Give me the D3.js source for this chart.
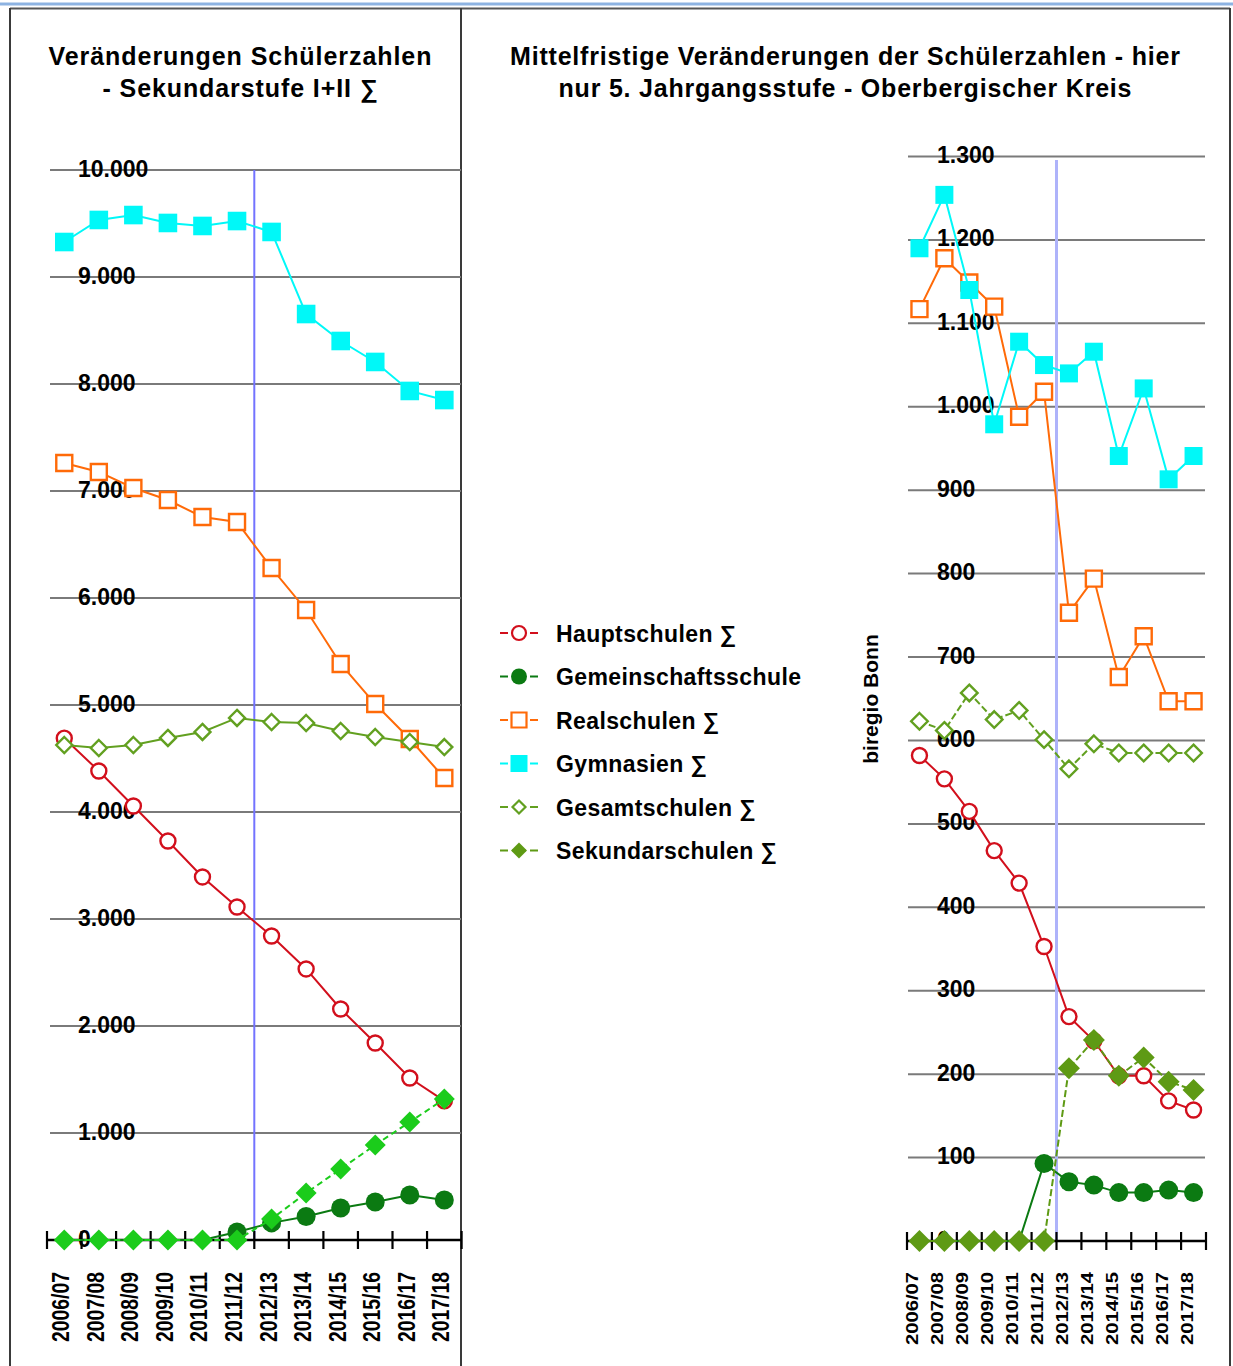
<!DOCTYPE html>
<html><head><meta charset="utf-8">
<script src="https://cdn.jsdelivr.net/npm/d3@7"></script>
<style>
body{margin:0;background:#fff}
svg{display:block}
text{font-family:"Liberation Sans",Arial,Helvetica,sans-serif;font-weight:bold;fill:#000}
</style>
</head><body>
<svg id="c" width="1233" height="1366"></svg>
<script>
// ---------- data ----------
const years = ["2006/07","2007/08","2008/09","2009/10","2010/11","2011/12","2012/13","2013/14","2014/15","2015/16","2016/17","2017/18"];
const seriesNames = ["Hauptschulen ∑","Gemeinschaftsschule","Realschulen ∑","Gymnasien ∑","Gesamtschulen ∑","Sekundarschulen ∑"];

// Left chart: Sekundarstufe I+II
const leftHaupt   = [4690,4383,4056,3729,3393,3112,2841,2533,2159,1841,1514,1300];
const leftGemein  = [0,0,0,0,0,75,160,220,299,355,420,374];
const leftReal    = [7262,7178,7028,6916,6757,6710,6280,5888,5383,5009,4682,4318];
const leftGym     = [9327,9533,9579,9505,9477,9523,9421,8654,8402,8206,7935,7850];
const leftGesamt  = [4626,4598,4626,4692,4748,4879,4841,4832,4757,4701,4654,4607];
const leftSek     = [0,0,0,0,0,0,196,439,664,888,1103,1318];
const leftTicks   = [0,1000,2000,3000,4000,5000,6000,7000,8000,9000,10000];

// Right chart: 5. Jahrgangsstufe
const rightHaupt  = [582,554,515,468,429,353,269,240,198,198,168,157];
const rightGemein = [0,0,0,0,0,93,71,67,58,58,61,58];
const rightReal   = [1117,1178,1149,1120,988,1018,753,794,676,725,647,647];
const rightGym    = [1190,1254,1140,979,1078,1050,1040,1066,941,1022,913,941];
const rightGesamt = [623,612,657,625,636,601,566,596,585,585,585,585];
const rightSek    = [0,0,0,0,0,0,207,241,198,220,191,181];
const rightTicks  = [0,100,200,300,400,500,600,700,800,900,1000,1100,1200,1300];

const titleLeft  = ["Veränderungen Schülerzahlen","- Sekundarstufe I+II ∑"];
const titleRight = ["Mittelfristige Veränderungen der Schülerzahlen - hier","nur 5. Jahrgangsstufe - Oberbergischer Kreis"];
const yAxisTitleRight = "biregio Bonn";
const splitYear = "2012/13";

// ---------- helpers ----------
const de = d3.formatLocale({decimal:",", thousands:".", grouping:[3], currency:["","€"]});
const fmt = de.format(",d");
const svg = d3.select("#c");

function markerPath(type, s){
  if(type==="circle") return `M${s},0A${s},${s} 0 1,1 ${-s},0A${s},${s} 0 1,1 ${s},0Z`;
  if(type==="square") return `M${-s},${-s}h${2*s}v${2*s}h${-2*s}Z`;
  return `M0,${-s}L${s},0L0,${s}L${-s},0Z`;
}

const C = {
  red:"#d20f1c", dgreen:"#0b7a12", orange:"#ff6a08", cyan:"#00f8f8",
  olive:"#62a020", bright:"#1bcc1b", oliveDark:"#5e9a14"
};

// ---------- frame ----------
svg.append("line").attr("x1",0).attr("x2",1233).attr("y1",4).attr("y2",4).attr("stroke","#8db3e2").attr("stroke-width",3);
svg.append("line").attr("x1",10).attr("x2",1230).attr("y1",8.5).attr("y2",8.5).attr("stroke","#555").attr("stroke-width",2);
[10,461,1230].forEach(x=>svg.append("line").attr("x1",x).attr("x2",x).attr("y1",8).attr("y2",1366).attr("stroke","#3a3a3a").attr("stroke-width",2));

// ---------- panel ----------
function panel(cfg){
  const g = svg.append("g");
  const x = d3.scaleBand().domain(years).range(cfg.xRange).padding(0);
  const y = d3.scaleLinear().domain(cfg.yDomain).range(cfg.yRange);

  // titles
  cfg.title.forEach((t,i)=>{
    g.append("text").attr("x",cfg.titleX).attr("y",65+i*32).attr("text-anchor","middle")
      .attr("font-size",25).attr("textLength",cfg.titleLen[i]).attr("lengthAdjust","spacing").text(t);
  });

  // gridlines
  cfg.ticks.filter(d=>d>0).forEach(d=>{
    g.append("line").attr("x1",cfg.gridX[0]).attr("x2",cfg.gridX[1]).attr("y1",y(d)).attr("y2",y(d))
      .attr("stroke","#7a7a7a").attr("stroke-width",2);
  });
  // tick labels
  cfg.ticks.forEach(d=>{
    g.append("text").attr("x",cfg.labelX).attr("y",y(d)+6.5).attr("font-size",23).text(fmt(d));
  });

  // split line
  const sx = x(splitYear);
  g.append("line").attr("x1",sx).attr("x2",sx).attr("y1",cfg.splitTop).attr("y2",y(0))
    .attr("stroke",cfg.splitColor).attr("stroke-width",cfg.splitWidth);

  // x axis
  const r = x.range();
  g.append("line").attr("x1",r[0]).attr("x2",r[1]).attr("y1",y(0)).attr("y2",y(0)).attr("stroke","#000").attr("stroke-width",2.5);
  d3.range(years.length+1).forEach(i=>{
    const tx = r[0]+i*x.step();
    g.append("line").attr("x1",tx).attr("x2",tx).attr("y1",y(0)-9).attr("y2",y(0)+9).attr("stroke","#000").attr("stroke-width",2.2);
  });
  years.forEach(yr=>{
    const cx = x(yr)+x.bandwidth()/2 + cfg.xLabelShift;
    g.append("text").attr("transform",`translate(${cx},1272) rotate(-90)`).attr("text-anchor","end")
      .attr("font-size",cfg.xLabelSize).attr("textLength",cfg.xLabelLen).attr("lengthAdjust","spacingAndGlyphs").text(yr);
  });

  // series
  const line = d3.line().x((d,i)=>x(years[i])+x.bandwidth()/2).y(d=>y(d));
  cfg.series.forEach(s=>{
    g.append("path").attr("d",line(s.values)).attr("fill","none").attr("stroke",s.color)
      .attr("stroke-width",2).attr("stroke-dasharray",s.dash||null);
    s.values.forEach((v,i)=>{
      if(s.skipZero && v===0) return;
      g.append("path").attr("transform",`translate(${x(years[i])+x.bandwidth()/2},${y(v)})`)
        .attr("d",markerPath(s.marker,s.size))
        .attr("fill",s.open?"#fff":s.color).attr("stroke",s.color).attr("stroke-width",s.open?2.4:0);
    });
  });
  return {x,y};
}

panel({
  xRange:[47,461.6], yDomain:[0,10000], yRange:[1240,170], ticks:leftTicks,
  gridX:[50,461], labelX:78, title:titleLeft, titleX:240, titleLen:[383,275],
  splitTop:170, splitColor:"#7373ff", splitWidth:2,
  xLabelShift:5, xLabelSize:23, xLabelLen:70,
  series:[
    {values:leftHaupt, color:C.red, marker:"circle", size:7.5, open:true},
    {values:leftGemein, color:C.dgreen, marker:"circle", size:9.5, skipZero:true},
    {values:leftReal, color:C.orange, marker:"square", size:8, open:true},
    {values:leftGym, color:C.cyan, marker:"square", size:9.3},
    {values:leftGesamt, color:C.olive, marker:"diamond", size:8, open:true},
    {values:leftSek, color:C.bright, marker:"diamond", size:10.5, dash:"6,4"}
  ]
});

panel({
  xRange:[907,1206], yDomain:[0,1300], yRange:[1241,156.5], ticks:rightTicks,
  gridX:[908,1205], labelX:937, title:titleRight, titleX:845, titleLen:[670,573],
  splitTop:160, splitColor:"#aeb3fa", splitWidth:3,
  xLabelShift:-1, xLabelSize:16, xLabelLen:73,
  series:[
    {values:rightHaupt, color:C.red, marker:"circle", size:7.5, open:true},
    {values:rightGemein, color:C.dgreen, marker:"circle", size:9.5, skipZero:true},
    {values:rightReal, color:C.orange, marker:"square", size:8, open:true},
    {values:rightGym, color:C.cyan, marker:"square", size:9},
    {values:rightGesamt, color:C.olive, marker:"diamond", size:8.3, open:true, dash:"7,3"},
    {values:rightSek, color:C.oliveDark, marker:"diamond", size:11, dash:"7,3"}
  ]
});

// y-axis title right
svg.append("text").attr("transform","translate(878,699) rotate(-90)").attr("text-anchor","middle")
  .attr("font-size",21).text(yAxisTitleRight);

// ---------- legend ----------
const legendStyle = [
  {color:C.red, marker:"circle", size:7, open:true},
  {color:C.dgreen, marker:"circle", size:8},
  {color:C.orange, marker:"square", size:7.5, open:true},
  {color:C.cyan, marker:"square", size:8.5},
  {color:C.olive, marker:"diamond", size:6.5, open:true},
  {color:C.oliveDark, marker:"diamond", size:8}
];
const lg = svg.append("g");
seriesNames.forEach((name,i)=>{
  const cy = 633 + i*43.5;
  const st = legendStyle[i];
  lg.append("line").attr("x1",500).attr("x2",538).attr("y1",cy).attr("y2",cy).attr("stroke",st.color).attr("stroke-width",2).attr("stroke-dasharray","8,4,14,4,8");
  lg.append("path").attr("transform",`translate(519,${cy})`).attr("d",markerPath(st.marker,st.size))
    .attr("fill",st.open?"#fff":st.color).attr("stroke",st.color).attr("stroke-width",st.open?2.2:0);
  lg.append("text").attr("x",556).attr("y",cy+8.5).attr("font-size",23).attr("letter-spacing",0.4).text(name);
});
</script>
</body></html>
